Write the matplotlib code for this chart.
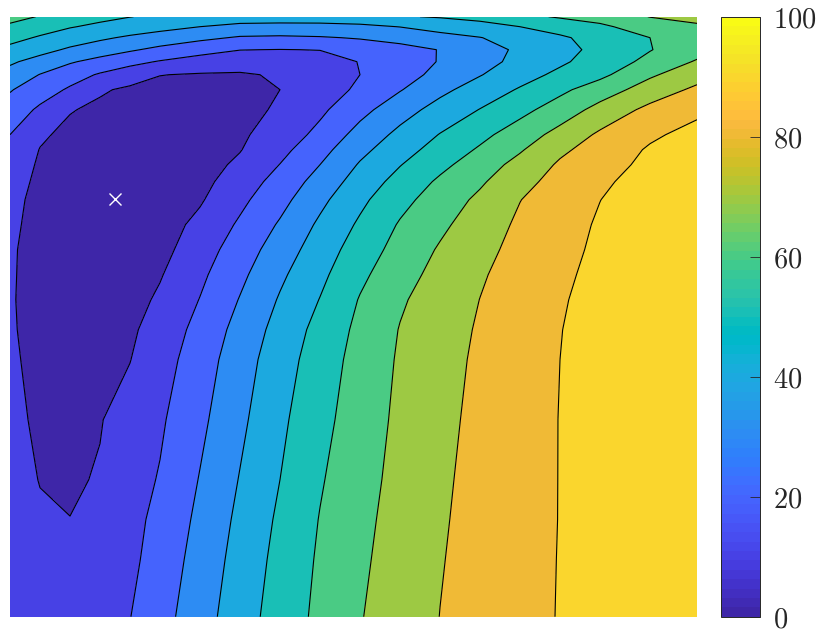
import numpy as np
import matplotlib
matplotlib.use("Agg")
import matplotlib.pyplot as plt
from matplotlib.colors import ListedColormap, Normalize
import matplotlib.colorbar as mcolorbar

plt.rcParams['mathtext.fontset'] = 'cm'

# Parula colormap (64 entries)
parula64 = [
    [0.2422, 0.1504, 0.6603], [0.2504, 0.1650, 0.7076], [0.2578, 0.1818, 0.7511], [0.2647, 0.1978, 0.7952],
    [0.2706, 0.2147, 0.8364], [0.2751, 0.2342, 0.8710], [0.2783, 0.2559, 0.8991], [0.2803, 0.2782, 0.9221],
    [0.2813, 0.3006, 0.9414], [0.2810, 0.3228, 0.9579], [0.2795, 0.3447, 0.9717], [0.2760, 0.3667, 0.9829],
    [0.2699, 0.3892, 0.9906], [0.2602, 0.4123, 0.9952], [0.2440, 0.4358, 0.9988], [0.2206, 0.4603, 0.9973],
    [0.1963, 0.4847, 0.9892], [0.1834, 0.5074, 0.9798], [0.1786, 0.5289, 0.9682], [0.1764, 0.5499, 0.9520],
    [0.1687, 0.5703, 0.9359], [0.1540, 0.5902, 0.9218], [0.1460, 0.6091, 0.9079], [0.1380, 0.6276, 0.8973],
    [0.1248, 0.6459, 0.8883], [0.1113, 0.6635, 0.8763], [0.0952, 0.6798, 0.8598], [0.0689, 0.6948, 0.8394],
    [0.0297, 0.7082, 0.8163], [0.0036, 0.7203, 0.7917], [0.0067, 0.7312, 0.7660], [0.0433, 0.7411, 0.7394],
    [0.0964, 0.7500, 0.7120], [0.1408, 0.7584, 0.6842], [0.1717, 0.7670, 0.6554], [0.1938, 0.7758, 0.6251],
    [0.2161, 0.7843, 0.5923], [0.2470, 0.7918, 0.5567], [0.2906, 0.7973, 0.5188], [0.3406, 0.8008, 0.4789],
    [0.3909, 0.8029, 0.4354], [0.4456, 0.8024, 0.3909], [0.5044, 0.7993, 0.3480], [0.5616, 0.7942, 0.3045],
    [0.6174, 0.7876, 0.2612], [0.6720, 0.7793, 0.2227], [0.7242, 0.7698, 0.1910], [0.7738, 0.7598, 0.1646],
    [0.8203, 0.7498, 0.1535], [0.8634, 0.7406, 0.1596], [0.9035, 0.7330, 0.1774], [0.9393, 0.7288, 0.2100],
    [0.9728, 0.7298, 0.2394], [0.9956, 0.7434, 0.2371], [0.9970, 0.7659, 0.2199], [0.9952, 0.7893, 0.2028],
    [0.9892, 0.8136, 0.1885], [0.9786, 0.8386, 0.1766], [0.9676, 0.8639, 0.1643], [0.9610, 0.8890, 0.1537],
    [0.9597, 0.9135, 0.1423], [0.9628, 0.9373, 0.1265], [0.9691, 0.9606, 0.1064], [0.9769, 0.9839, 0.0805],
]

# grid coordinates (x across, y measured downward from the top edge)
x_grid = [0, 30, 60, 90, 120, 150, 190, 230, 270, 310, 350, 390, 430, 470, 510, 550, 590, 640, 687]
y_grid = [0, 10, 21, 33, 45, 58, 73, 93, 118, 133, 148, 165, 183, 208, 233, 258, 283, 313, 343, 403, 463, 503, 543, 600]

# field values, one list per grid row (top to bottom)
row_00 = [63.0, 59.5, 55.0, 52.5, 50.2, 48.5, 47.0, 45.5, 45.0, 45.0, 46.0, 49.2, 50.8, 53.0, 57.5, 61.0, 63.5, 70.3, 72.0]
row_01 = [58.4, 54.5, 50.6, 48.0, 45.5, 43.1, 40.0, 37.3, 37.0, 37.2, 38.0, 40.2, 43.3, 46.4, 50.0, 54.0, 58.3, 64.5, 69.0]
row_02 = [53.2, 48.9, 45.2, 41.6, 38.5, 35.8, 32.2, 29.0, 28.5, 29.2, 30.7, 33.0, 37.0, 39.7, 44.1, 48.6, 53.6, 60.0, 66.0]
row_03 = [47.4, 43.3, 38.5, 34.9, 31.2, 27.6, 23.6, 20.2, 19.8, 20.2, 24.5, 27.0, 30.3, 36.3, 41.5, 47.0, 52.5, 59.6, 66.0]
row_04 = [41.5, 36.3, 31.0, 26.8, 22.7, 19.3, 15.8, 14.5, 15.5, 16.5, 20.3, 25.4, 30.5, 36.7, 42.6, 48.4, 54.5, 62.5, 71.0]
row_05 = [36.3, 29.7, 24.2, 19.0, 14.8, 10.2, 9.3, 9.0, 11.0, 15.0, 20.0, 26.2, 32.6, 39.5, 46.1, 52.2, 57.6, 68.6, 76.0]
row_06 = [30.7, 24.7, 18.7, 11.2, 8.3, 7.5, 7.2, 7.6, 10.0, 15.6, 21.6, 29.4, 37.6, 44.4, 50.9, 57.8, 65.1, 74.4, 82.0]
row_07 = [25.8, 18.3, 10.6, 8.0, 6.8, 6.3, 6.3, 7.2, 11.2, 18.1, 26.9, 35.9, 43.6, 50.3, 57.1, 64.6, 73.2, 82.6, 88.0]
row_08 = [20.0, 11.5, 7.5, 6.5, 5.5, 5.3, 5.7, 8.5, 14.5, 22.6, 33.6, 42.5, 50.4, 57.4, 64.9, 73.3, 81.6, 88.5, 93.0]
row_09 = [17.5, 9.7, 6.9, 5.8, 5.1, 5.0, 6.2, 9.6, 17.1, 26.6, 37.3, 46.1, 53.8, 61.2, 69.0, 78.1, 84.4, 91.0, 94.5]
row_10 = [15.5, 8.8, 6.3, 5.2, 4.7, 4.8, 6.3, 11.7, 20.2, 30.0, 40.9, 49.6, 57.5, 65.1, 73.2, 81.3, 86.7, 92.0, 96.0]
row_11 = [14.0, 8.0, 5.9, 4.6, 4.2, 4.8, 7.3, 14.7, 23.7, 33.8, 44.4, 53.4, 61.6, 68.6, 77.0, 83.4, 88.6, 93.3, 96.5]
row_12 = [12.5, 7.5, 5.6, 4.0, 3.8, 5.0, 9.0, 17.7, 26.8, 37.6, 47.8, 57.0, 64.7, 72.0, 79.8, 84.9, 89.9, 94.5, 97.0]
row_13 = [11.7, 7.2, 5.2, 4.0, 4.0, 5.8, 12.4, 21.4, 31.1, 41.7, 51.5, 60.9, 68.0, 75.1, 81.6, 86.4, 91.0, 94.8, 97.3]
row_14 = [11.0, 7.0, 5.0, 4.1, 4.5, 7.0, 15.4, 24.8, 34.9, 44.9, 54.8, 63.6, 71.0, 77.3, 82.8, 87.6, 91.5, 95.0, 97.5]
row_15 = [10.8, 7.2, 5.3, 4.6, 5.6, 9.3, 18.0, 27.8, 38.2, 47.7, 57.9, 66.3, 73.1, 79.0, 83.9, 88.6, 92.0, 95.3, 97.5]
row_16 = [10.6, 7.5, 5.8, 5.2, 6.5, 11.5, 20.3, 30.5, 40.9, 50.3, 60.6, 68.8, 74.7, 80.1, 84.7, 89.3, 92.5, 95.5, 97.5]
row_17 = [10.7, 7.8, 6.2, 5.9, 8.5, 13.9, 23.1, 33.4, 43.6, 53.2, 62.4, 70.4, 75.8, 81.0, 85.4, 89.8, 92.8, 95.6, 97.5]
row_18 = [11.0, 8.2, 6.8, 7.0, 9.8, 15.8, 25.1, 35.5, 45.5, 54.9, 63.6, 71.1, 76.6, 81.6, 85.8, 90.0, 93.0, 95.7, 97.5]
row_19 = [11.5, 9.0, 8.0, 9.6, 13.3, 18.6, 27.8, 37.9, 48.0, 57.0, 65.0, 72.0, 77.6, 82.3, 86.3, 90.2, 93.0, 95.7, 97.5]
row_20 = [12.5, 9.8, 9.0, 10.6, 15.9, 20.7, 30.5, 40.5, 50.0, 59.1, 66.5, 72.9, 78.5, 82.8, 86.6, 90.2, 93.0, 95.7, 97.5]
row_21 = [13.0, 10.8, 10.1, 13.5, 17.3, 22.4, 32.3, 42.2, 51.7, 60.4, 67.5, 73.6, 79.0, 83.1, 86.9, 90.2, 93.0, 95.7, 97.5]
row_22 = [13.0, 12.3, 12.8, 14.8, 17.8, 24.2, 33.8, 43.7, 53.0, 61.3, 68.4, 74.1, 79.5, 83.3, 87.0, 90.3, 93.0, 95.7, 97.5]
row_23 = [13.5, 13.0, 13.8, 16.0, 19.8, 26.3, 35.8, 45.5, 54.4, 62.3, 69.5, 74.9, 80.1, 83.7, 87.2, 90.4, 93.0, 95.7, 97.5]

levels = [0, 10, 20, 30, 40, 50, 60, 70, 80, 90, 100]
cbar_ticks = [0, 20, 40, 60, 80, 100]
marker_x = [105]
marker_y = [182]

Z = np.array([row_00, row_01, row_02, row_03, row_04, row_05, row_06, row_07, row_08, row_09,
              row_10, row_11, row_12, row_13, row_14, row_15, row_16, row_17, row_18, row_19,
              row_20, row_21, row_22, row_23])
X, Y = np.meshgrid(x_grid, y_grid)

cmap = ListedColormap(parula64)
norm = Normalize(vmin=0, vmax=100)
# MATLAB-style: each band takes the colour of its lower level
fill_colors = [parula64[min(int(np.floor(l / 100 * 64)), 63)] for l in levels[:-1]]

fig = plt.figure(figsize=(8.3, 6.3), dpi=100)
ax = fig.add_axes([10 / 830, (630 - 616.7) / 630, 687 / 830, 600 / 630])
ax.contourf(X, Y, Z, levels=levels, colors=fill_colors)
ax.contour(X, Y, Z, levels=levels[1:-1], colors='k', linewidths=0.8)
ax.plot(marker_x, marker_y, marker='x', color='white', markersize=9, markeredgewidth=1.0, linestyle='none')
ax.set_xlim(x_grid[0], x_grid[-1])
ax.set_ylim(y_grid[-1], y_grid[0])
ax.axis('off')

cax = fig.add_axes([721 / 830, (630 - 616.7) / 630, 39 / 830, 600 / 630])
cb = mcolorbar.ColorbarBase(cax, cmap=cmap, norm=norm, orientation='vertical')
cb.set_ticks(cbar_ticks)
cb.set_ticklabels([r'$%d$' % t for t in cbar_ticks])
cax.tick_params(axis='y', direction='in', length=7, width=0.6, color='#262626',
                labelsize=20.5, pad=9, labelcolor='#262626')
cb.outline.set_linewidth(0.7)
cb.outline.set_edgecolor('#262626')

fig.savefig('out.png', dpi=100)
